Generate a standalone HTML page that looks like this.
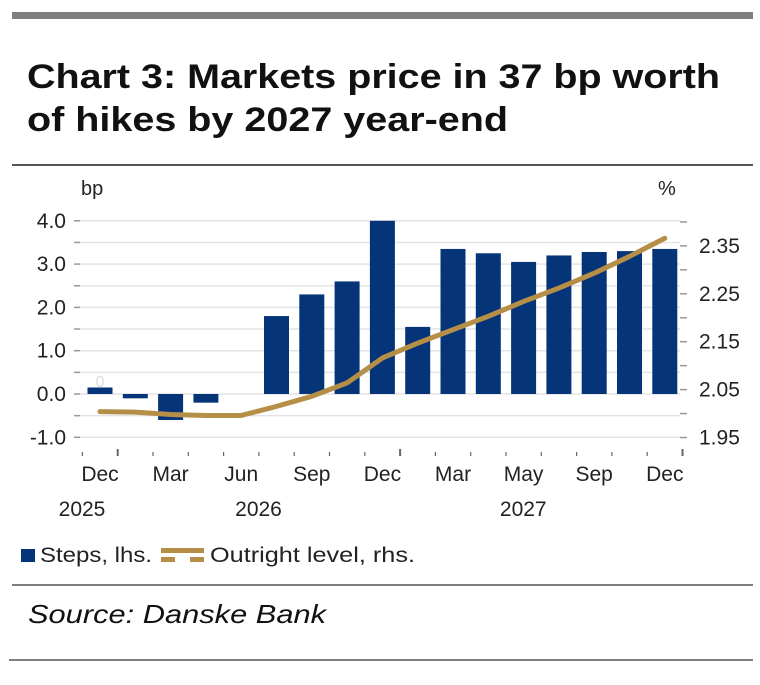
<!DOCTYPE html>
<html><head><meta charset="utf-8">
<style>
body{margin:0;background:#fff;width:760px;height:680px;overflow:hidden;font-family:"Liberation Sans",sans-serif;}
svg text{font-family:"Liberation Sans",sans-serif;}
</style></head>
<body>
<svg id="c" width="760" height="680" xmlns="http://www.w3.org/2000/svg">
<rect x="12" y="12" width="741" height="7" fill="#7f7f7f"/>
<text x="27" y="88" font-size="34" font-weight="bold" fill="#111" textLength="693" lengthAdjust="spacingAndGlyphs">Chart 3: Markets price in 37 bp worth</text>
<text x="27" y="131" font-size="34" font-weight="bold" fill="#111" textLength="481" lengthAdjust="spacingAndGlyphs">of hikes by 2027 year-end</text>
<line x1="12" y1="165" x2="753" y2="165" stroke="#555" stroke-width="2"/>
<text x="81" y="195" font-size="20" fill="#222">bp</text>
<text x="658" y="195" font-size="20" fill="#222">%</text>
<g id="grid"></g><g id="bars"></g><g id="axes"></g><g id="line"></g>
<rect x="21" y="549" width="14" height="13" fill="#063479"/>
<text x="40" y="562" font-size="21" fill="#222" textLength="112" lengthAdjust="spacingAndGlyphs">Steps, lhs.</text>
<rect x="161" y="548" width="43" height="5" fill="#b58f47"/>
<rect x="161" y="557" width="14" height="5" fill="#b58f47"/><rect x="190" y="557" width="14" height="5" fill="#b58f47"/>
<text x="210" y="562" font-size="21" fill="#222" textLength="205" lengthAdjust="spacingAndGlyphs">Outright level, rhs.</text>
<line x1="12" y1="585" x2="753" y2="585" stroke="#7f7f7f" stroke-width="2"/>
<text x="28" y="623" font-size="26" font-style="italic" fill="#111" textLength="298" lengthAdjust="spacingAndGlyphs">Source: Danske Bank</text>
<line x1="9" y1="660" x2="753" y2="660" stroke="#7f7f7f" stroke-width="2"/>
</svg>
<script>
const categories=["Dec25","Feb26","Mar26","Apr26","Jun26","Jul26","Sep26","Oct26","Dec26","Feb27","Mar27","Apr27","Jun27","Jul27","Sep27","Oct27","Dec27"];
const steps=[0.15,-0.1,-0.6,-0.2,0,1.8,2.3,2.6,4.0,1.55,3.35,3.25,3.05,3.2,3.28,3.3,3.35];
const outright=[2.004,2.003,1.998,1.996,1.996,2.015,2.036,2.064,2.116,2.147,2.175,2.203,2.234,2.262,2.293,2.328,2.366];
const leftTicks=[4,3,2,1,0,-1];
const rightTicks=[2.35,2.25,2.15,2.05,1.95];
const monthLabels=["Dec","Mar","Jun","Sep","Dec","Mar","May","Sep","Dec"];
const monthIdx=[0,2,4,6,8,10,12,14,16];
const yearLabels=["2025","2026","2027"];
const yearPos=[0,5,12.5];
const NS="http://www.w3.org/2000/svg";
const yL=v=>394-v*43.3;
const yR=v=>437.5-(v-1.95)*479;
const xS=i=>100+i*35.3;
function mk(tag,a,p){const e=document.createElementNS(NS,tag);for(const k in a)e.setAttribute(k,a[k]);document.getElementById(p).appendChild(e);return e;}
for(let v=4;v>=-1;v-=0.5){
 const g=mk('line',{x1:80,x2:680,y1:yL(v),y2:yL(v),stroke:'#e4e4e4','stroke-width':1.5},'grid');
 
 
 mk('line',{x1:74,x2:80,y1:yL(v),y2:yL(v),stroke:'#999','stroke-width':1.5},'axes');
}
leftTicks.forEach(v=>{const t=mk('text',{x:66,y:yL(v)+7,'font-size':21,'text-anchor':'end',fill:'#222'},'axes');t.textContent=v.toFixed(1);
 
 });
for(let v=1.95;v<=2.401;v+=0.05){mk('line',{x1:680,x2:687,y1:yR(v),y2:yR(v),stroke:'#999','stroke-width':1.5},'axes');}
rightTicks.forEach(v=>{const t=mk('text',{x:699,y:yR(v)+7,'font-size':21,fill:'#222'},'axes');t.textContent=v.toFixed(2);
 
 });
for(let i=0;i<=17;i++){const x=xS(i)-17.6;const maj=(i==1||i==9||i==17);
 mk('line',{x1:x,x2:x,y1:maj?449:452,y2:456,stroke:'#666','stroke-width':maj?2:1.2},'axes');}
steps.forEach((v,i)=>{const y0=yL(0),y1=yL(v);
 const r=mk('rect',{x:xS(i)-12.5,y:Math.min(y0,y1),width:25,height:Math.abs(y1-y0),fill:'#063479'},'bars');
 
 });
{const t=mk('text',{x:xS(0),y:yL(0)-7,'font-size':16,'text-anchor':'middle',fill:'#ddd'},'axes');t.textContent='0';}
monthLabels.forEach((m,k)=>{const t=mk('text',{x:xS(monthIdx[k]),y:481,'font-size':21,'text-anchor':'middle',fill:'#222'},'axes');t.textContent=m;
 
 });
yearLabels.forEach((m,k)=>{const t=mk('text',{x:xS(yearPos[k])-18,y:516,'font-size':21,'text-anchor':'middle',fill:'#222'},'axes');t.textContent=m;
 
 });
const pts=outright.map((v,i)=>xS(i)+','+yR(v)).join(' ');
const pl=mk('polyline',{points:pts,fill:'none',stroke:'#b58f47','stroke-width':5,'stroke-linejoin':'round','stroke-linecap':'round'},'line');


</script>
</body></html>
